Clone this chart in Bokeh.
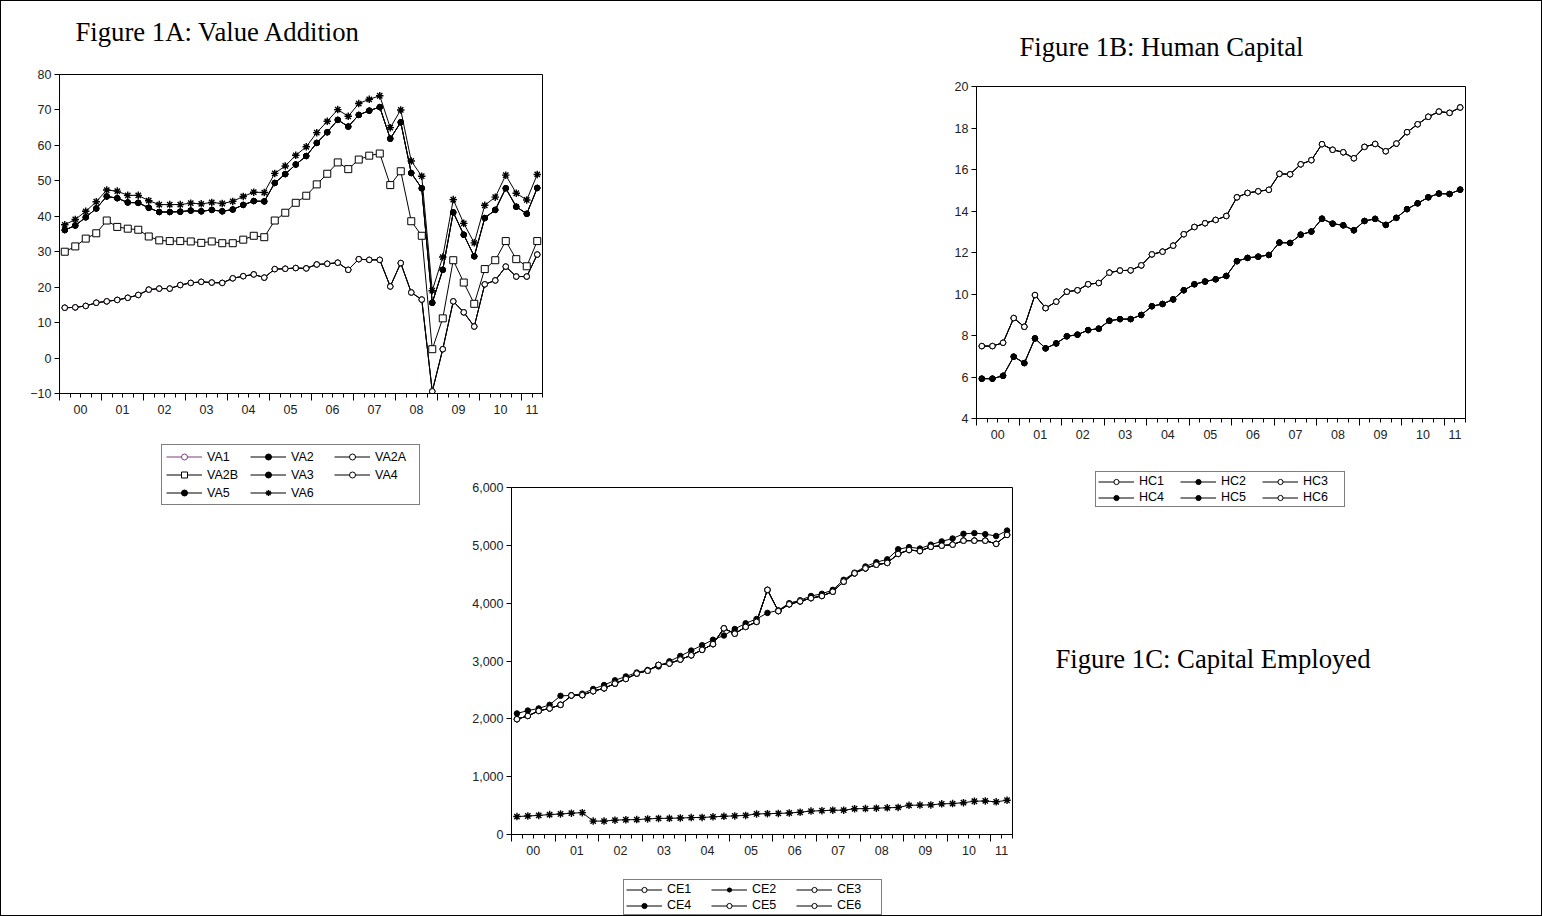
from bokeh.plotting import figure
from bokeh.layouts import row, column
from bokeh.models import (Range1d, FixedTicker, LinearAxis, Legend, LegendItem,
                          NumeralTickFormatter, ColumnDataSource, Spacer)
from bokeh.core.properties import value
from bokeh.embed import file_html
from bokeh.resources import INLINE

# ---------------------------------------------------------------- data
# quarterly observations 2000Q1 .. 2011Q2
quarters = list(range(46))
year_labels = ["00", "01", "02", "03", "04", "05", "06", "07", "08", "09", "10", "11"]

# Figure 1A: value addition
va6 = [37.6, 39.1, 41.4, 44.1, 47.4, 47.1, 45.9, 45.9, 44.4, 43.3,
       43.3, 43.3, 43.7, 43.5, 43.9, 43.6, 44.2, 45.6, 46.8, 46.7,
       52.1, 54.2, 57.2, 59.6, 63.6, 66.8, 70.1, 68.2, 71.8, 73.0,
       74.0, 65.0, 70.0, 55.6, 51.3, 19.0, 28.5, 44.7, 38.0, 32.5,
       43.1, 45.4, 51.6, 46.5, 44.6, 51.8]
va5 = [36.1, 37.4, 39.7, 42.2, 45.6, 45.1, 43.9, 43.8, 42.4, 41.2,
       41.2, 41.3, 41.6, 41.4, 41.8, 41.4, 41.9, 43.2, 44.3, 44.2,
       49.4, 51.9, 54.6, 57.0, 60.7, 63.7, 67.2, 65.3, 68.6, 69.8,
       70.8, 61.9, 66.5, 52.2, 47.9, 15.6, 24.9, 41.1, 34.8, 28.7,
       39.5, 41.8, 47.9, 42.7, 40.7, 48.0]
va3 = va5
va2 = va5
va2b = [30.0, 31.5, 33.7, 35.2, 38.8, 37.0, 36.5, 36.2, 34.3, 33.2,
        33.0, 33.0, 32.9, 32.5, 32.9, 32.4, 32.4, 33.4, 34.5, 34.1,
        38.8, 41.0, 43.8, 45.8, 49.0, 52.0, 55.2, 53.3, 56.0, 57.1,
        57.7, 48.8, 52.7, 38.6, 34.5, 2.5, 11.2, 27.6, 21.3, 15.3,
        25.1, 27.6, 33.0, 27.9, 25.9, 33.0]
va4 = [14.2, 14.3, 14.7, 15.6, 16.0, 16.4, 17.0, 17.8, 19.3, 19.6,
       19.6, 20.6, 21.2, 21.5, 21.3, 21.2, 22.5, 23.1, 23.6, 22.7,
       25.1, 25.2, 25.4, 25.3, 26.4, 26.6, 26.9, 24.9, 27.9, 27.7,
       27.7, 20.2, 26.8, 18.5, 16.5, -9.4, 2.5, 16.0, 12.9, 8.9,
       20.8, 21.9, 25.8, 23.0, 23.0, 29.2]
va2a = va4
va1 = va4

# Figure 1B: human capital
hc1 = [7.49, 7.49, 7.65, 8.84, 8.42, 9.95, 9.32, 9.63, 10.11, 10.18,
       10.47, 10.53, 11.03, 11.13, 11.14, 11.38, 11.91, 12.04, 12.33, 12.88,
       13.23, 13.41, 13.57, 13.76, 14.66, 14.87, 14.95, 15.02, 15.79, 15.77,
       16.25, 16.45, 17.22, 16.95, 16.83, 16.54, 17.09, 17.23, 16.88, 17.25,
       17.80, 18.18, 18.54, 18.79, 18.73, 18.99]
hc3 = hc1
hc6 = hc1
hc2 = [5.92, 5.92, 6.06, 6.98, 6.67, 7.86, 7.38, 7.62, 7.96, 8.04,
       8.26, 8.33, 8.71, 8.79, 8.79, 8.99, 9.41, 9.52, 9.74, 10.18,
       10.47, 10.60, 10.71, 10.87, 11.58, 11.74, 11.80, 11.88, 12.48, 12.46,
       12.86, 13.01, 13.63, 13.39, 13.31, 13.07, 13.52, 13.62, 13.33, 13.67,
       14.09, 14.37, 14.66, 14.84, 14.82, 15.03]
hc4 = hc2
hc5 = hc2

# Figure 1C: capital employed
ce4 = [2093, 2143, 2180, 2242, 2398, 2404, 2435, 2516, 2584, 2665,
       2733, 2801, 2845, 2907, 2994, 3087, 3180, 3273, 3367, 3441,
       3553, 3652, 3727, 3832, 3876, 4000, 4050, 4124, 4161, 4230,
       4404, 4528, 4634, 4708, 4758, 4932, 4969, 4944, 5012, 5068,
       5118, 5199, 5211, 5193, 5161, 5255]
ce5 = [1994, 2050, 2137, 2180, 2242, 2404, 2410, 2478, 2528, 2609,
       2689, 2783, 2832, 2932, 2957, 3025, 3099, 3193, 3292, 3565,
       3472, 3590, 3677, 4230, 3863, 3981, 4031, 4087, 4124, 4199,
       4373, 4516, 4602, 4665, 4696, 4851, 4919, 4901, 4975, 4994,
       5012, 5081, 5081, 5081, 5025, 5180]
ce1 = ce5
ce3 = ce5
ce6 = ce5
ce2 = [310, 320, 330, 345, 355, 368, 378, 232, 232, 248,
       255, 258, 270, 278, 280, 285, 292, 295, 305, 315,
       322, 330, 355, 360, 365, 372, 385, 405, 412, 420,
       420, 445, 448, 455, 462, 468, 505, 508, 512, 530,
       535, 550, 575, 580, 565, 592]

# ---------------------------------------------------------------- styling
SANS = "Liberation Sans"
SERIF = "Liberation Serif"
TICK_FS = "12.5px"
TITLE_FS = "26.7px"
PURPLE = "#7b3f7b"

# marker styles: (marker, size, fill, line width)
OPEN_C = ("circle", 5.5, "white", 1)
FULL_C = ("circle", 5.5, "black", 1)
SQUARE = ("square", 7, "white", 1)
STAR = ("asterisk", 7.5, "black", 1.4)

year_bounds = [-0.5 + 4 * k for k in range(12)]
quarter_bounds = [-0.5 + k for k in range(47) if k % 4 != 0]
year_centers = [1.5 + 4 * k for k in range(11)] + [44.5]


def borders(left, right, top, bottom):
    return dict(min_border_left=left, min_border_right=right,
                min_border_top=top, min_border_bottom=bottom)


def blank(w, h, left=0, right=0, top=0, bottom=0, x_range=None, y_range=None):
    # data coordinates of a blank panel equal its own pixel coordinates (y downwards)
    p = figure(width=w, height=h, x_axis_type=None, y_axis_type=None,
               toolbar_location=None, output_backend="svg",
               x_range=x_range or Range1d(left, w - right),
               y_range=y_range or Range1d(h - bottom, top),
               **borders(left, right, top, bottom))
    p.outline_line_color = None
    p.background_fill_color = "white"
    p.border_fill_color = "white"
    return p


def heading(p, x, y, txt):
    p.text(x=[x], y=[y], text=[txt], text_font=value(SERIF), text_font_size=TITLE_FS,
           text_color="black", text_baseline="middle", text_align="left")


def chart(w, h, left, right, top, bottom, ylo, yhi, ystep, fmt=None):
    p = figure(width=w, height=h, x_range=Range1d(-0.5, 45.5), y_range=Range1d(ylo, yhi),
               x_axis_type=None, y_axis_type=None, toolbar_location=None,
               output_backend="svg", **borders(left, right, top, bottom))
    p.outline_line_color = "black"
    p.outline_line_width = 1
    p.background_fill_color = "white"
    p.border_fill_color = "white"

    yticks = list(range(ylo, yhi + 1, ystep))
    ya = LinearAxis(ticker=FixedTicker(ticks=yticks, minor_ticks=[]))
    ya.major_tick_out = 5
    ya.major_tick_in = 0
    ya.axis_line_color = "black"
    ya.major_tick_line_color = "black"
    ya.major_label_text_font = SANS
    ya.major_label_text_font_size = TICK_FS
    ya.major_label_text_color = "#222222"
    ya.major_label_standoff = 3
    if fmt:
        ya.formatter = NumeralTickFormatter(format=fmt)
    p.add_layout(ya, "left")

    # tick marks: long at year boundaries, short at each quarter
    xt = LinearAxis(ticker=FixedTicker(ticks=year_bounds, minor_ticks=quarter_bounds))
    xt.major_label_overrides = {t: "" for t in year_bounds}
    xt.major_label_text_font_size = "0px"
    xt.major_label_standoff = 0
    xt.major_tick_out = 7
    xt.major_tick_in = 0
    xt.minor_tick_out = 4
    xt.minor_tick_in = 0
    xt.axis_line_color = "black"
    xt.major_tick_line_color = "black"
    xt.minor_tick_line_color = "black"
    p.add_layout(xt, "below")

    # year labels centred in each year
    xl = LinearAxis(ticker=FixedTicker(ticks=year_centers, minor_ticks=[]))
    xl.major_label_overrides = dict(zip(year_centers, year_labels))
    xl.axis_line_color = None
    xl.major_tick_line_color = None
    xl.minor_tick_line_color = None
    xl.major_tick_out = 0
    xl.major_tick_in = 0
    xl.major_label_standoff = 4
    xl.major_label_text_font = SANS
    xl.major_label_text_font_size = TICK_FS
    xl.major_label_text_color = "#222222"
    p.add_layout(xl, "below")
    return p


def draw(p, y, style, color="black", shrink=0):
    marker, size, fill, lw = style
    src = ColumnDataSource(dict(x=quarters, y=y))
    ln = p.line("x", "y", source=src, line_color=color, line_width=1)
    mk = p.scatter("x", "y", source=src, marker=marker, size=size - shrink,
                   line_color=color, fill_color=fill, line_width=lw)
    return ln, mk


def legend_panel(w, h, bord, location, entries, label_w, row_h, spacing, padding):
    # series are drawn outside this panel's visible range; only the key shows
    p = blank(w, h, *bord, x_range=Range1d(-200, -199), y_range=Range1d(-200, -199))
    items = []
    for name, y, style, color in entries:
        ln, mk = draw(p, y, style, color, shrink=1.5)
        items.append(LegendItem(label=name, renderers=[ln, mk]))
    lg = Legend(items=items, location=location, orientation="horizontal", ncols=3)
    lg.margin = 0
    lg.padding = padding
    lg.spacing = spacing
    lg.glyph_width = 36
    lg.glyph_height = row_h
    lg.label_height = row_h
    lg.label_width = label_w
    lg.label_standoff = 5
    lg.label_text_font = SANS
    lg.label_text_font_size = TICK_FS
    lg.label_text_color = "black"
    lg.border_line_color = "black"
    lg.border_line_width = 1
    lg.background_fill_color = "white"
    lg.background_fill_alpha = 1
    p.add_layout(lg)
    return p


# ---------------------------------------------------------------- Figure 1A
A_B = (58, 19)
a_head = blank(560, 60, *A_B, 0, 0)
heading(a_head, 74, 30, "Figure 1A: Value Addition")
pa = chart(560, 383, *A_B, 13, 51, -10, 80, 10)
draw(pa, va1, OPEN_C, PURPLE)
draw(pa, va2a, OPEN_C)
draw(pa, va4, OPEN_C)
draw(pa, va2b, SQUARE)
draw(pa, va2, FULL_C)
draw(pa, va3, FULL_C)
draw(pa, va5, FULL_C)
draw(pa, va6, STAR)

a_leg = legend_panel(450, 471, (160, 0, 0, 0), "top_left", [
    ("VA1", va1, OPEN_C, PURPLE), ("VA2", va2, FULL_C, "black"), ("VA2A", va2a, OPEN_C, "black"),
    ("VA2B", va2b, SQUARE, "black"), ("VA3", va3, FULL_C, "black"), ("VA4", va4, OPEN_C, "black"),
    ("VA5", va5, FULL_C, "black"), ("VA6", va6, STAR, "black"),
], label_w=40, row_h=15, spacing=3, padding=4)

# ---------------------------------------------------------------- Figure 1B
B_B = (77, 76)
b_head = blank(642, 70, *B_B, 0, 0)
heading(b_head, 120, 45, "Figure 1B: Human Capital")
pb = chart(642, 373, *B_B, 15, 26, 4, 20, 2)
draw(pb, hc2, FULL_C)
draw(pb, hc4, FULL_C)
draw(pb, hc5, FULL_C)
draw(pb, hc1, OPEN_C)
draw(pb, hc3, OPEN_C)
draw(pb, hc6, OPEN_C)

b_leg = legend_panel(500, 80, (0, 0, 0, 0), (54, 17), [
    ("HC1", hc1, OPEN_C, "black"), ("HC2", hc2, FULL_C, "black"), ("HC3", hc3, OPEN_C, "black"),
    ("HC4", hc4, FULL_C, "black"), ("HC5", hc5, FULL_C, "black"), ("HC6", hc6, OPEN_C, "black"),
], label_w=39, row_h=13, spacing=2, padding=2)

# ---------------------------------------------------------------- Figure 1C
C_B = (60, 29)
pc = chart(590, 420, *C_B, 43, 30, 0, 6000, 1000, fmt="0,0")
draw(pc, ce2, STAR)
draw(pc, ce4, FULL_C)
draw(pc, ce1, OPEN_C)
draw(pc, ce3, OPEN_C)
draw(pc, ce5, OPEN_C)
draw(pc, ce6, OPEN_C)

c_leg = legend_panel(590, 51, (*C_B, 0, 0), (112, 0), [
    ("CE1", ce1, OPEN_C, "black"), ("CE2", ce2, STAR, "black"), ("CE3", ce3, OPEN_C, "black"),
    ("CE4", ce4, FULL_C, "black"), ("CE5", ce5, OPEN_C, "black"), ("CE6", ce6, OPEN_C, "black"),
], label_w=42, row_h=13, spacing=2, padding=2)

c_head = blank(500, 391)
heading(c_head, 14, 134, "Figure 1C: Capital Employed")

# ---------------------------------------------------------------- page
top = row(column(a_head, pa), Spacer(width=338, height=443), column(b_head, pb))
bottom = row(a_leg, column(pc, c_leg), column(b_leg, c_head))
page = column(top, bottom, styles={"border": "1px solid black", "background-color": "white"})

open("out.html", "w").write(file_html(page, INLINE))
